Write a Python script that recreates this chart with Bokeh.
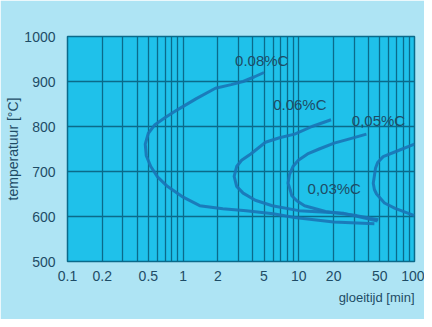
from bokeh.plotting import figure
from bokeh.models import FixedTicker, CustomJSTickFormatter, Label, Title
from bokeh.embed import file_html
from bokeh.resources import INLINE

# ---- data ----
x_major = [0.1, 0.2, 0.5, 1, 2, 5, 10, 20, 50, 100]
x_minor = [0.3, 0.4, 0.6, 0.7, 0.8, 0.9, 3, 4, 6, 7, 8, 9, 30, 40, 60, 70, 80, 90]
y_ticks = [500, 600, 700, 800, 900, 1000]

c08_t = [5.0, 4.1, 3.3, 2.6, 1.9, 1.3, 0.89, 0.7, 0.57, 0.5, 0.47, 0.48, 0.525, 0.6, 0.73, 1.0, 1.39, 2.2, 3.5, 6.0, 9.2, 20, 45]
c08_T = [920, 910, 900, 893, 885, 862, 837, 820, 804, 785, 761, 735, 711, 688, 667, 643, 624, 617, 613, 606, 598, 588, 584]

c06_t = [19, 13, 9.2, 6.8, 5.15, 3.84, 3.2, 2.9, 2.76, 2.9, 3.3, 4.2, 5.9, 10, 24.5, 48]
c06_T = [815, 800, 783, 775, 765, 739, 725, 711, 689, 667, 652, 636, 624, 613, 607, 590]

c05_t = [38.4, 28, 20.2, 15, 11.9, 9.9, 8.9, 8.3, 8.07, 8.4, 8.7, 9.6, 11.2, 17, 31.6, 48.7]
c05_T = [783, 773, 763, 750, 739, 725, 711, 693, 674, 660, 646, 635, 624, 611, 602, 593]

c03_t = [100, 70, 53.6, 48, 46, 44, 45, 47, 55, 68, 84, 100]
c03_T = [761, 745, 733, 720, 707, 674, 660, 650, 630, 618, 609, 602]

curve_names = ["0.08%C", "0.06%C", "0,05%C", "0,03%C"]
name_t = [2.81, 6.0, 28.7, 11.9]
name_T = [946, 850, 813, 663]

x_label = "gloeitijd [min]"
y_label = "temperatuur [°C]"

# ---- styling ----
OUTER = "#aee4f4"
PLOT = "#1fc1ea"
GRID = "#0b6a8a"
CURVE = "#1a74b6"
TEXT = "#1e4c66"
FONT = "Liberation Sans"

p = figure(width=424, height=319, x_axis_type="log",
           x_range=(0.1, 100), y_range=(500, 1000),
           output_backend="svg", toolbar_location=None,
           min_border_left=67, min_border_right=10,
           min_border_top=36, min_border_bottom=58)

p.background_fill_color = PLOT
p.border_fill_color = OUTER
p.outline_line_color = GRID
p.outline_line_width = 1.5

p.xaxis.ticker = FixedTicker(ticks=x_major, minor_ticks=x_minor)
p.yaxis.ticker = FixedTicker(ticks=y_ticks)
p.xaxis.formatter = CustomJSTickFormatter(code="return tick.toString();")

for ax in (p.xaxis, p.yaxis):
    ax.axis_line_color = None
    ax.major_tick_line_color = None
    ax.minor_tick_line_color = None
    ax.major_label_text_font = FONT
    ax.major_label_text_font_size = "14px"
    ax.major_label_text_color = TEXT
p.yaxis.major_label_standoff = 6
p.xaxis.major_label_standoff = 3

p.yaxis.axis_label = y_label
p.yaxis.axis_label_text_font = FONT
p.yaxis.axis_label_text_font_size = "14px"
p.yaxis.axis_label_text_font_style = "normal"
p.yaxis.axis_label_text_color = TEXT
p.yaxis.axis_label_standoff = 0

p.add_layout(Title(text=x_label, align="right", text_font=FONT, text_font_size="13px",
                   text_font_style="normal", text_color=TEXT, standoff=8, offset=0), "below")

p.xgrid.grid_line_color = GRID
p.xgrid.grid_line_width = 1.3
p.xgrid.minor_grid_line_color = GRID
p.xgrid.minor_grid_line_width = 1.3
p.ygrid.grid_line_color = GRID
p.ygrid.grid_line_width = 1.6

for t, T in ((c08_t, c08_T), (c06_t, c06_T), (c05_t, c05_T), (c03_t, c03_T)):
    p.line(t, T, line_color=CURVE, line_width=3, line_alpha=0.9, line_join="round")

for name, t, T in zip(curve_names, name_t, name_T):
    p.add_layout(Label(x=t, y=T, text=name, text_align="left", text_baseline="middle",
                       text_font=FONT, text_font_size="15px", text_color=TEXT))

open("out.html", "w").write(file_html(p, INLINE))
